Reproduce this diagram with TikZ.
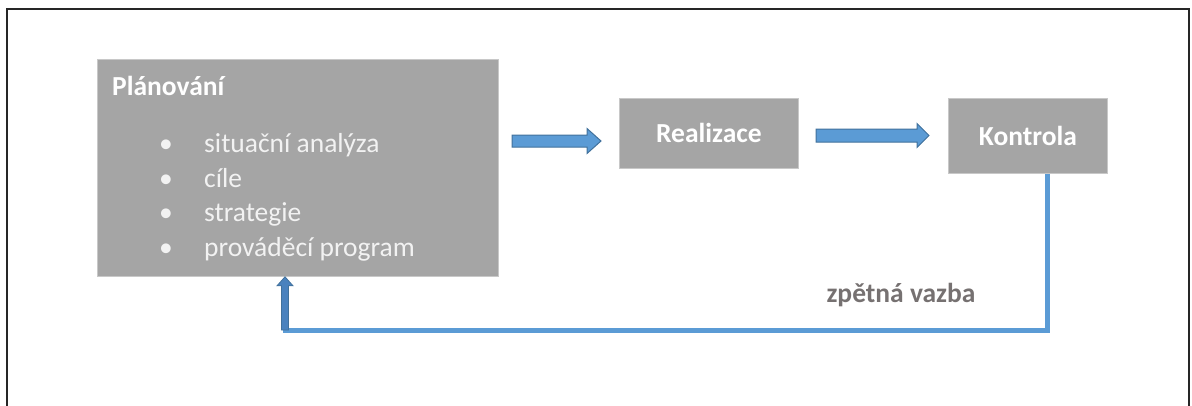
\documentclass[tikz,border=0pt]{standalone}
\usepackage{fontspec}
\setmainfont{Carlito}
\usetikzlibrary{calc}
\definecolor{boxgray}{HTML}{A5A5A5}
\definecolor{boxedge}{HTML}{C8C8C8}
\definecolor{arrowfill}{HTML}{5B9BD5}
\definecolor{arrowedge}{HTML}{41719C}
\definecolor{upfill}{HTML}{4A82BE}
\definecolor{labelgray}{HTML}{767171}
\tikzset{
  box/.style={draw=boxedge, line width=0.8pt, fill=boxgray, inner sep=0pt, anchor=north west},
  boxtitle/.style={text=white, font=\fontsize{27.5}{33}\selectfont\bfseries},
  itemtext/.style={text=white!95!black, font=\fontsize{27.5}{33}\selectfont, anchor=base west, inner sep=0pt},
  bul/.style={text=white!95!black, font=\fontsize{27.5}{33}\selectfont, anchor=base, inner sep=0pt},
  blockarrow/.style={fill=arrowfill, draw=arrowedge, line width=1pt, line join=miter},
  fb/.style={draw=arrowfill, line width=5pt},
  uparrow/.style={fill=upfill, draw=arrowedge, line width=0.8pt},
  fblabel/.style={text=labelgray, font=\fontsize{27.5}{33}\selectfont\bfseries}
}
\begin{document}
\begin{tikzpicture}[x=1pt,y=-1pt]
\useasboundingbox (0,0) rectangle (1192,405);
% outer frame
\draw[line width=2pt, black!85] (6.5,9) rectangle (1189,412);

% boxes
\node[box, minimum width=401pt, minimum height=217pt] (plan) at (97,59) {};
\node[box, minimum width=179pt, minimum height=70pt] (real) at (619,98) {};
\node[box, minimum width=159pt, minimum height=75pt] (kont) at (948,98) {};

\node[boxtitle, anchor=base west, inner sep=0pt] (plantitle) at (112,95) {Plánování};
\node[boxtitle] (realtext) at (real.center) {Realizace};
\node[boxtitle] (konttext) at (kont.center) {Kontrola};

\node[bul] (b1) at (166,152.5) {•};
\node[bul] (b2) at (166,187) {•};
\node[bul] (b3) at (166,221.5) {•};
\node[bul] (b4) at (166,256) {•};
\node[itemtext] (i1) at (204,152.5) {situační analýza};
\node[itemtext] (i2) at (204,187) {cíle};
\node[itemtext] (i3) at (204,221.5) {strategie};
\node[itemtext] (i4) at (204,256) {prováděcí program};

% block arrows
\coordinate (a1s) at (512,141);
\coordinate (a1e) at (601,141);
\draw[blockarrow] ($(a1s)+(0,-6)$) -- ($(a1e)+(-14,-6)$) -- ($(a1e)+(-14,-12.5)$) -- (a1e)
  -- ($(a1e)+(-14,12.5)$) -- ($(a1e)+(-14,6)$) -- ($(a1s)+(0,6)$) -- cycle;
\coordinate (a2s) at (816,135.5);
\coordinate (a2e) at (929,135.5);
\draw[blockarrow] ($(a2s)+(0,-6.5)$) -- ($(a2e)+(-12,-6.5)$) -- ($(a2e)+(-12,-12)$) -- (a2e)
  -- ($(a2e)+(-12,12)$) -- ($(a2e)+(-12,6.5)$) -- ($(a2s)+(0,6.5)$) -- cycle;

% feedback loop
\coordinate (fbstart) at (kont.south -| 1047,0);
\coordinate (fbcorner) at (285,330);
\draw[fb] (fbstart) |- ($(fbcorner)+(-2.5,0)$);
\coordinate (uptip) at (plan.south -| fbcorner);
\draw[uparrow] ($(fbcorner)+(-3.5,0)$) -- ($(uptip)+(-3.5,9)$) -- ($(uptip)+(-8,9)$) -- (uptip)
  -- ($(uptip)+(8,9)$) -- ($(uptip)+(3.5,9)$) -- ($(fbcorner)+(3.5,0)$) -- cycle;

\node[fblabel] (fbl) at (901,295) {zpětná vazba};
\end{tikzpicture}
\end{document}
